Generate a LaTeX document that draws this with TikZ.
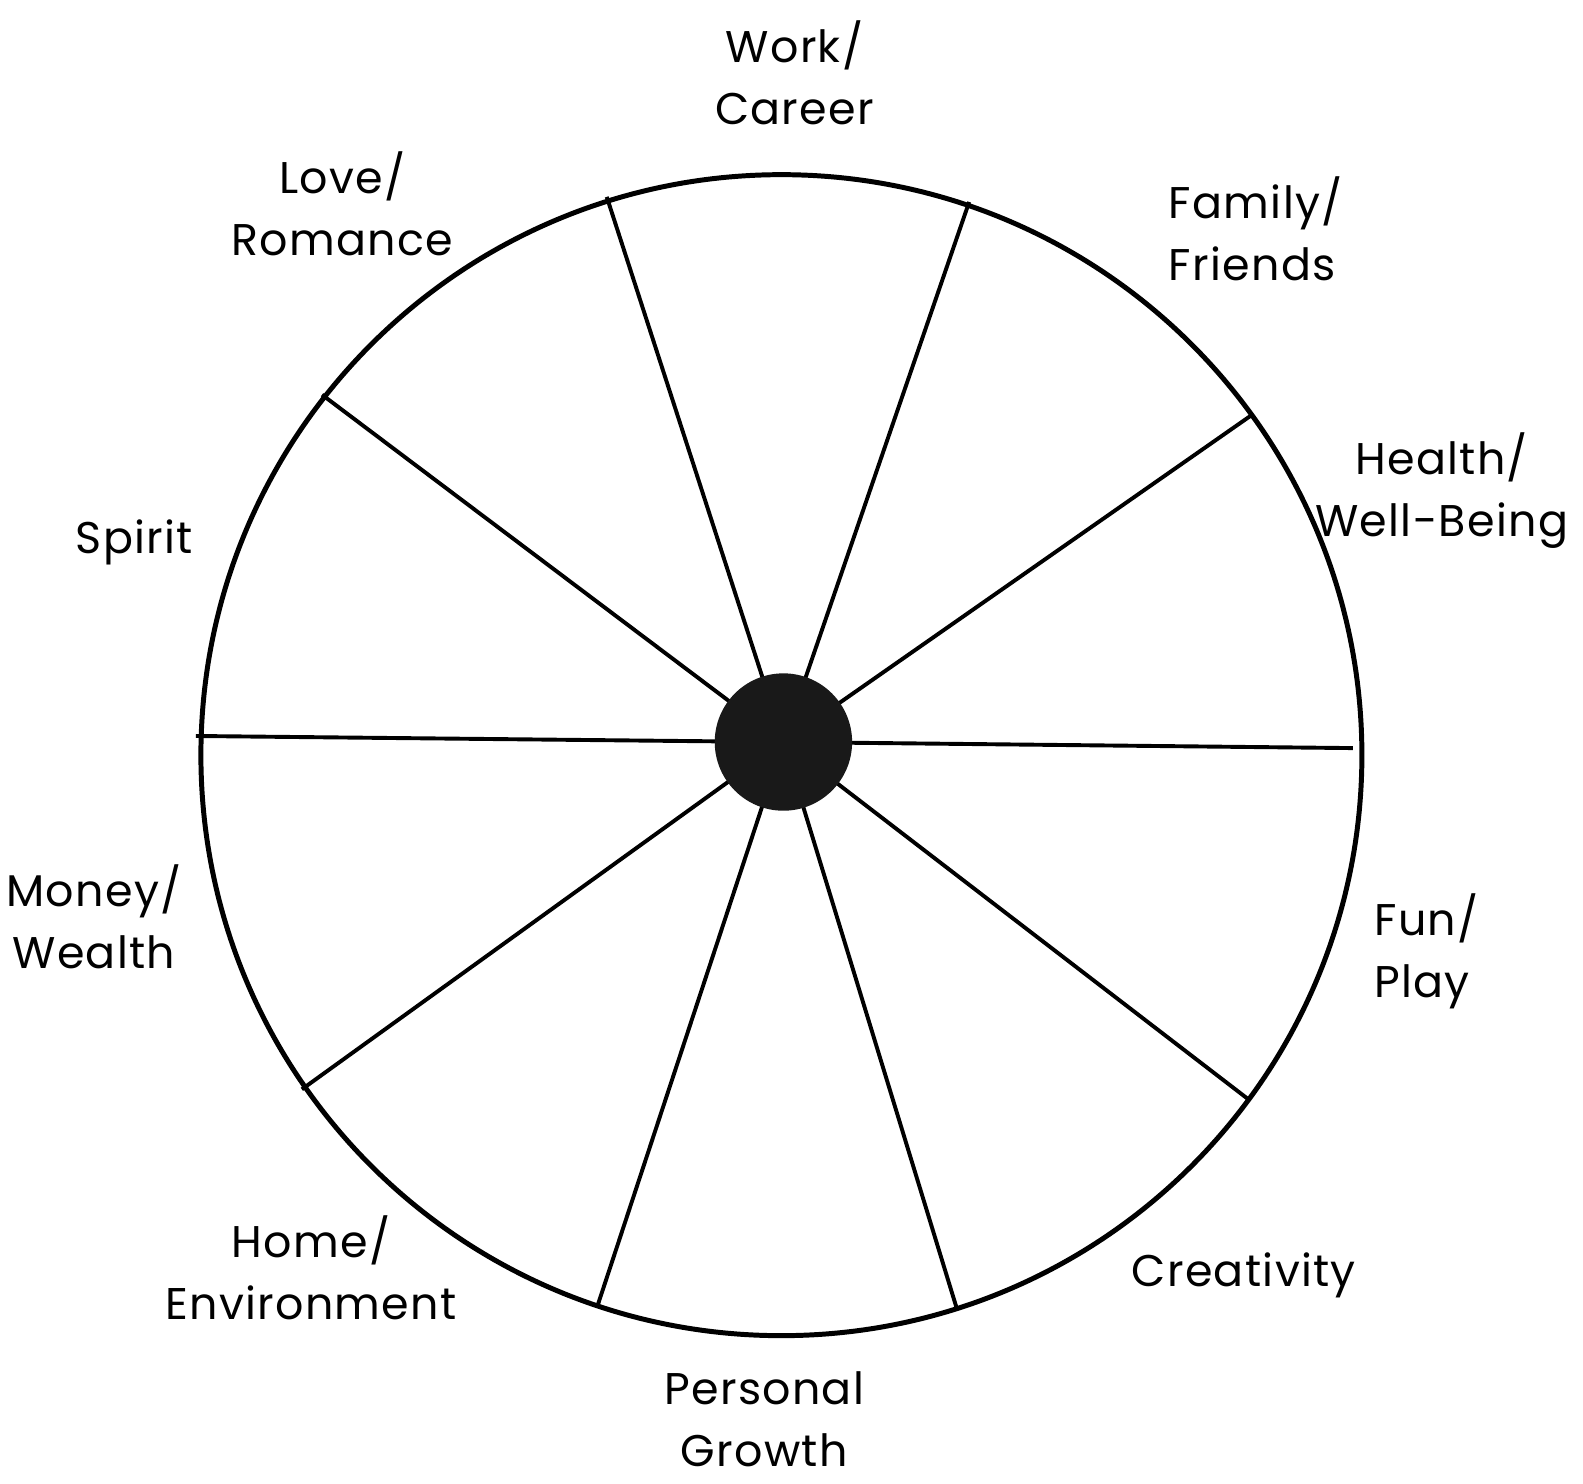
\documentclass[tikz,border=0pt]{standalone}
\usepackage{fontspec}
\setmainfont{Poppins}[LetterSpace=3]
\usepackage{tikz}
\usetikzlibrary{positioning,calc}

\begin{document}
\begin{tikzpicture}[x=0.01cm,y=-0.01cm,
    area/.style={font=\fontsize{12.5}{17.5}\selectfont,align=center,inner sep=0pt},
    spoke/.style={line width=1.1pt}]
    \useasboundingbox (0,0) rectangle (1568,1469);
    % outer rim
    \draw[line width=1.4pt] (774,748) circle (575);
    % spokes: name/x/y of the outer end
    \coordinate (mid) at (776,735);
    \foreach \n/\x/\y in {s0/1340/741, s1/1240/411, s2/960/200, s3/601/195, s4/319/391,
                          s5/194/729, s6/299/1079, s7/592/1293, s8/948/1297, s9/1238/1090} {
      \coordinate (\n) at (\x,\y);
      \draw[spoke] (mid) -- (\n);
    }
    % hub
    \node[circle,fill=black!90,minimum size=1.36cm,inner sep=0pt] (hub) at (mid) {};
    % labels
    \node[area] (work)   at (787,72)   {Work/\\Career};
    \node[area] (love)   at (339,202)  {Love/\\Romance};
    \node[area,align=left] (family) at (1244,227) {Family/\\Friends};
    \node[area] (health) at (1428,486) {Health/\\Well-Being};
    \node[area] (spirit) at (133,537)  {Spirit};
    \node[area] (money)  at (93,908)   {Money/\\Wealth};
    \node[area,align=left] (fun) at (1413,942) {Fun/\\Play};
    \node[area] (home)   at (308,1256) {Home/\\Environment};
    \node[area] (create) at (1232,1263) {Creativity};
    \node[area] (growth) at (757,1406) {Personal\\Growth};
\end{tikzpicture}
\end{document}
